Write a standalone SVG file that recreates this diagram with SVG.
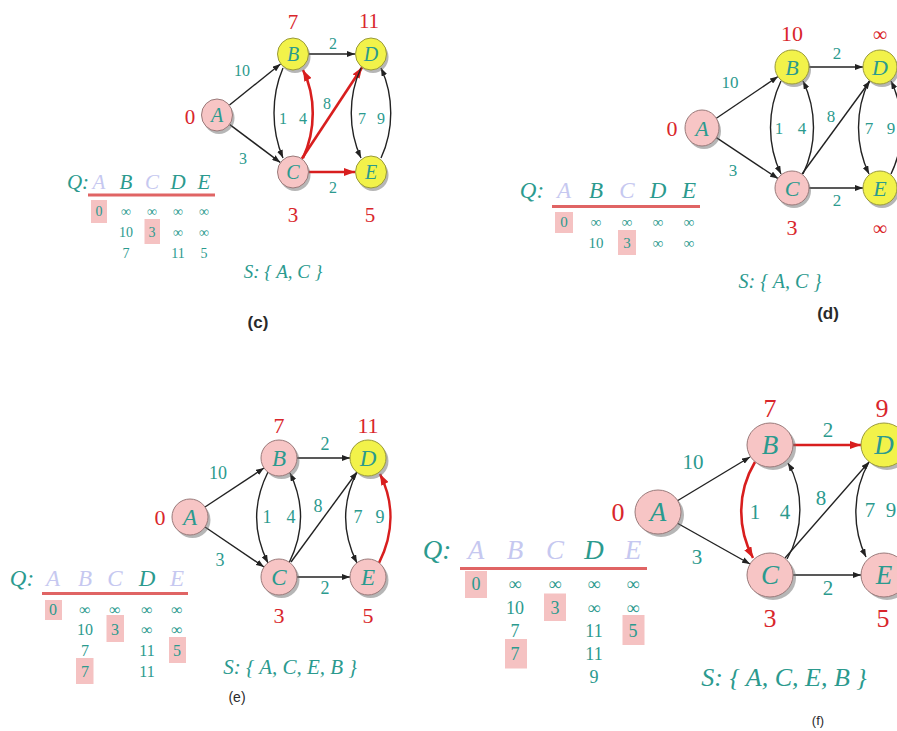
<svg xmlns="http://www.w3.org/2000/svg" width="897" height="731" viewBox="0 0 897 731">
<defs>
<marker id="ab" markerUnits="userSpaceOnUse" markerWidth="8" markerHeight="6" refX="8" refY="3" orient="auto"><path d="M0,0 L8,3 L0,6 z" fill="#222"/></marker>
<marker id="ar" markerUnits="userSpaceOnUse" markerWidth="11" markerHeight="8" refX="11" refY="4" orient="auto"><path d="M0,0 L11,4 L0,8 z" fill="#d81e1e"/></marker>
</defs>
<style>
text{font-family:"Liberation Serif","Times New Roman",serif;text-anchor:middle;dominant-baseline:central}
.t{fill:#2b9a8e}
.r{fill:#d9262b}
.f{fill:#c6c8f0}
.i{font-style:italic}
.e{fill:none;stroke:#222;stroke-width:1.4;marker-end:url(#ab)}
.er{fill:none;stroke:#d81e1e;stroke-width:2.6;marker-end:url(#ar)}
.pk{fill:#f7c5c5;stroke:#9a7a7a;stroke-width:1}
.yl{fill:#f2f24a;stroke:#9a9a3a;stroke-width:1}
.sh{fill:#6e6e6e;opacity:.5}
.hl{fill:#f5c2c2}
.ul{stroke:#e06464;stroke-width:3}
.cap{font-family:"Liberation Sans",Arial,sans-serif;fill:#2a2a2a}
</style>
<rect width="897" height="731" fill="#fff"/>

<!-- ===== Panel (c) ===== -->
<g id="panel-c">
<g id="c-table" font-size="14">
<rect class="hl" x="91" y="200" width="16" height="23"/>
<rect class="hl" x="144.5" y="219" width="15.5" height="25"/>
<line class="ul" x1="88" y1="195" x2="215" y2="195"/>
<g font-size="21" class="i"><text class="t" x="78" y="182">Q:</text><text class="f" x="99" y="182">A</text><text class="t" x="126" y="182">B</text><text class="f" x="152" y="182">C</text><text class="t" x="178" y="182">D</text><text class="t" x="204" y="182">E</text></g>
<text class="t" x="99" y="211">0</text><text class="t" x="126" y="211">∞</text><text class="t" x="152" y="211">∞</text><text class="t" x="178" y="211">∞</text><text class="t" x="204" y="211">∞</text>
<text class="t" x="126" y="232">10</text><text class="t" x="152" y="232">3</text><text class="t" x="178" y="232">∞</text><text class="t" x="204" y="232">∞</text>
<text class="t" x="126" y="253">7</text><text class="t" x="178" y="253">11</text><text class="t" x="204" y="253">5</text>
</g>
<g id="c-edges">
<path class="e" d="M229.5,105 L280.5,64"/>
<path class="e" d="M229.8,124.6 L280.2,162.4"/>
<path class="e" d="M309,54 L355,54"/>
<path class="er" d="M309,172 L355,172"/>
<path class="er" d="M301.8,158.7 L362.2,67.3"/>
<path class="e" d="M283,68 C271,96 271,130 283,158"/>
<path class="er" d="M303,158 C316,130 316,96 303,70"/>
<path class="e" d="M361,68 C348,96 348,130 361,158"/>
<path class="e" d="M381,158 C394,130 394,96 381,68"/>
</g>
<g id="c-weights" class="t" font-size="16">
<text x="242" y="70">10</text><text x="333" y="43">2</text><text x="283" y="118">1</text><text x="303" y="118">4</text><text x="327" y="103">8</text><text x="362" y="118">7</text><text x="381" y="118">9</text><text x="243" y="158">3</text><text x="333" y="187">2</text>
</g>
<g id="c-A"><ellipse class="sh" cx="219" cy="118" rx="15.5" ry="16"/><ellipse class="pk" cx="217" cy="115" rx="15.5" ry="16"/><text class="t i" x="217" y="115" font-size="20">A</text><text class="r" x="190" y="117" font-size="21">0</text></g>
<g id="c-B"><ellipse class="sh" cx="295" cy="57" rx="15.5" ry="16"/><ellipse class="yl" cx="293" cy="54" rx="15.5" ry="16"/><text class="t i" x="293" y="54" font-size="20">B</text><text class="r" x="293" y="22" font-size="21">7</text></g>
<g id="c-C"><ellipse class="sh" cx="295" cy="175" rx="15.5" ry="16"/><ellipse class="pk" cx="293" cy="172" rx="15.5" ry="16"/><text class="t i" x="293" y="172" font-size="20">C</text><text class="r" x="293" y="215" font-size="21">3</text></g>
<g id="c-D"><ellipse class="sh" cx="373" cy="57" rx="15.5" ry="16"/><ellipse class="yl" cx="371" cy="54" rx="15.5" ry="16"/><text class="t i" x="371" y="54" font-size="20">D</text><text class="r" x="369" y="21" font-size="21">11</text></g>
<g id="c-E"><ellipse class="sh" cx="373" cy="175" rx="15.5" ry="16"/><ellipse class="yl" cx="371" cy="172" rx="15.5" ry="16"/><text class="t i" x="371" y="172" font-size="20">E</text><text class="r" x="370" y="215" font-size="21">5</text></g>
<text class="t i" x="283" y="271" font-size="19">S: { A, C }</text>
<text class="cap" x="258" y="322" font-size="17" font-weight="bold">(c)</text>
</g>

<!-- ===== Panel (d) ===== -->
<g id="panel-d">
<g id="d-table" font-size="15">
<rect class="hl" x="555" y="212" width="18" height="21"/>
<rect class="hl" x="618" y="230" width="18" height="25"/>
<line class="ul" x1="552" y1="206.5" x2="700" y2="206.5"/>
<g font-size="23" class="i"><text class="t" x="532" y="190">Q:</text><text class="f" x="564" y="190">A</text><text class="t" x="596" y="190">B</text><text class="f" x="627" y="190">C</text><text class="t" x="658" y="190">D</text><text class="t" x="689" y="190">E</text></g>
<text class="t" x="564" y="221.5">0</text><text class="t" x="596" y="221.5">∞</text><text class="t" x="627" y="221.5">∞</text><text class="t" x="658" y="221.5">∞</text><text class="t" x="689" y="221.5">∞</text>
<text class="t" x="596" y="243">10</text><text class="t" x="627" y="243">3</text><text class="t" x="658" y="243">∞</text><text class="t" x="689" y="243">∞</text>
</g>
<g id="d-edges">
<path class="e" d="M716,118.5 L778,76.5"/>
<path class="e" d="M716,137.4 L778,178.6"/>
<path class="e" d="M809,67 L863,67"/>
<path class="e" d="M809,188 L863,188"/>
<path class="e" d="M802,174 L870,81"/>
<path class="e" d="M781,81 C767,110 767,145 781,174"/>
<path class="e" d="M803,174 C817,145 817,110 803,81"/>
<path class="e" d="M869,81 C855,110 855,145 869,174"/>
<path class="e" d="M891,174 C905,145 905,110 891,81"/>
</g>
<g id="d-weights" class="t" font-size="17">
<text x="730" y="82">10</text><text x="837" y="53">2</text><text x="779" y="128">1</text><text x="802" y="128">4</text><text x="831" y="116">8</text><text x="869" y="128">7</text><text x="891" y="128">9</text><text x="733" y="170">3</text><text x="837" y="200">2</text>
</g>
<g id="d-A"><ellipse class="sh" cx="704" cy="131" rx="17" ry="18"/><ellipse class="pk" cx="702" cy="128" rx="17" ry="18"/><text class="t i" x="702" y="128" font-size="22">A</text><text class="r" x="672" y="128" font-size="22">0</text></g>
<g id="d-B"><ellipse class="sh" cx="794" cy="70" rx="17" ry="17"/><ellipse class="yl" cx="792" cy="67" rx="17" ry="17"/><text class="t i" x="792" y="67" font-size="22">B</text><text class="r" x="792" y="33" font-size="22">10</text></g>
<g id="d-C"><ellipse class="sh" cx="794" cy="191" rx="17" ry="17"/><ellipse class="pk" cx="792" cy="188" rx="17" ry="17"/><text class="t i" x="792" y="188" font-size="22">C</text><text class="r" x="792" y="227" font-size="22">3</text></g>
<g id="d-D"><ellipse class="sh" cx="882" cy="70" rx="17" ry="17"/><ellipse class="yl" cx="880" cy="67" rx="17" ry="17"/><text class="t i" x="880" y="67" font-size="22">D</text><text class="r" x="880" y="34" font-size="20">∞</text></g>
<g id="d-E"><ellipse class="sh" cx="882" cy="191" rx="17" ry="17"/><ellipse class="yl" cx="880" cy="188" rx="17" ry="17"/><text class="t i" x="880" y="188" font-size="22">E</text><text class="r" x="880" y="228" font-size="20">∞</text></g>
<text class="t i" x="780" y="281" font-size="20">S: { A, C }</text>
<text class="cap" x="828" y="313" font-size="17" font-weight="bold">(d)</text>
</g>

<!-- ===== Panel (e) ===== -->
<g id="panel-e">
<g id="e-table" font-size="16">
<rect class="hl" x="45" y="600" width="17" height="20"/>
<rect class="hl" x="106.5" y="615" width="17.5" height="27"/>
<rect class="hl" x="169" y="637" width="17" height="26"/>
<rect class="hl" x="76" y="658" width="17.5" height="26"/>
<line class="ul" x1="42" y1="593.5" x2="188" y2="593.5"/>
<g font-size="23" class="i"><text class="t" x="22" y="578">Q:</text><text class="f" x="53" y="578">A</text><text class="f" x="85" y="578">B</text><text class="f" x="115" y="578">C</text><text class="t" x="147" y="578">D</text><text class="f" x="177" y="578">E</text></g>
<text class="t" x="53" y="609">0</text><text class="t" x="85" y="609">∞</text><text class="t" x="115" y="609">∞</text><text class="t" x="147" y="609">∞</text><text class="t" x="177" y="609">∞</text>
<text class="t" x="85" y="629">10</text><text class="t" x="115" y="629">3</text><text class="t" x="147" y="629">∞</text><text class="t" x="177" y="629">∞</text>
<text class="t" x="85" y="650">7</text><text class="t" x="147" y="650">11</text><text class="t" x="177" y="650">5</text>
<text class="t" x="85" y="671.5">7</text><text class="t" x="147" y="671.5">11</text>
</g>
<g id="e-edges">
<path class="e" d="M205,507 L264,468"/>
<path class="e" d="M205,527 L264,567"/>
<path class="e" d="M297,458 L350,458"/>
<path class="e" d="M297,577 L350,577"/>
<path class="e" d="M291,562 L357,472"/>
<path class="e" d="M268,472 C253,502 253,533 268,563"/>
<path class="e" d="M289,563 C304,533 304,502 290,473"/>
<path class="e" d="M357,472 C342,502 342,533 357,563"/>
<path class="er" d="M379,563 C394,533 394,502 380,474"/>
</g>
<g id="e-weights" class="t" font-size="18">
<text x="218" y="473">10</text><text x="325" y="444">2</text><text x="267" y="517">1</text><text x="291" y="517">4</text><text x="318" y="506">8</text><text x="358" y="517">7</text><text x="380" y="517">9</text><text x="220" y="560">3</text><text x="325" y="588">2</text>
</g>
<g id="e-A"><ellipse class="sh" cx="192.5" cy="520" rx="18" ry="18"/><ellipse class="pk" cx="190" cy="517" rx="18" ry="18"/><text class="t i" x="190" y="517" font-size="23">A</text><text class="r" x="160" y="517" font-size="22">0</text></g>
<g id="e-B"><ellipse class="sh" cx="281.5" cy="461" rx="18" ry="18"/><ellipse class="pk" cx="279" cy="458" rx="18" ry="18"/><text class="t i" x="279" y="458" font-size="23">B</text><text class="r" x="279" y="425" font-size="22">7</text></g>
<g id="e-C"><ellipse class="sh" cx="281.5" cy="580" rx="18" ry="18"/><ellipse class="pk" cx="279" cy="577" rx="18" ry="18"/><text class="t i" x="279" y="577" font-size="23">C</text><text class="r" x="279" y="615" font-size="22">3</text></g>
<g id="e-D"><ellipse class="sh" cx="370.5" cy="461" rx="18" ry="18"/><ellipse class="yl" cx="368" cy="458" rx="18" ry="18"/><text class="t i" x="368" y="458" font-size="23">D</text><text class="r" x="368" y="425" font-size="22">11</text></g>
<g id="e-E"><ellipse class="sh" cx="370.5" cy="580" rx="18" ry="18"/><ellipse class="pk" cx="368" cy="577" rx="18" ry="18"/><text class="t i" x="368" y="577" font-size="23">E</text><text class="r" x="368" y="615" font-size="22">5</text></g>
<text class="t i" x="290" y="667" font-size="21">S: { A, C, E, B }</text>
<text class="cap" x="237" y="697" font-size="14">(e)</text>
</g>

<!-- ===== Panel (f) ===== -->
<g id="panel-f">
<g id="f-table" font-size="18">
<rect class="hl" x="465" y="571" width="22" height="27"/>
<rect class="hl" x="544" y="593.5" width="22" height="27.5"/>
<rect class="hl" x="622.5" y="615" width="22" height="30"/>
<rect class="hl" x="505" y="639" width="22" height="29.5"/>
<line class="ul" x1="460" y1="568.5" x2="647" y2="568.5"/>
<g font-size="27" class="i"><text class="t" x="437" y="550">Q:</text><text class="f" x="476" y="550">A</text><text class="f" x="515" y="550">B</text><text class="f" x="555" y="550">C</text><text class="t" x="594" y="550">D</text><text class="f" x="633" y="550">E</text></g>
<text class="t" x="476" y="584">0</text><text class="t" x="515" y="584">∞</text><text class="t" x="555" y="584">∞</text><text class="t" x="594" y="584">∞</text><text class="t" x="633" y="584">∞</text>
<text class="t" x="515" y="607.5">10</text><text class="t" x="555" y="607.5">3</text><text class="t" x="594" y="607.5">∞</text><text class="t" x="633" y="607.5">∞</text>
<text class="t" x="515" y="630.5">7</text><text class="t" x="594" y="630.5">11</text><text class="t" x="633" y="630.5">5</text>
<text class="t" x="515" y="654">7</text><text class="t" x="594" y="654">11</text>
<text class="t" x="594" y="677">9</text>
</g>
<g id="f-edges">
<path class="e" d="M677,501 L750,457"/>
<path class="e" d="M677,523 L750,564"/>
<path class="er" d="M793,445 L861,445"/>
<path class="e" d="M793,575 L861,575"/>
<path class="e" d="M785,558 L869,462"/>
<path class="er" d="M755,462 C737,492 737,528 753,558"/>
<path class="e" d="M787,559 C804,530 804,490 788,463"/>
<path class="e" d="M869,462 C852,492 852,528 866,557"/>
<path class="e" d="M899,558 C916,528 916,492 899,462"/>
</g>
<g id="f-weights" class="t" font-size="21">
<text x="693" y="462">10</text><text x="828" y="430">2</text><text x="755" y="512">1</text><text x="785" y="512">4</text><text x="821" y="498">8</text><text x="870" y="510">7</text><text x="891" y="510">9</text><text x="697" y="557">3</text><text x="828" y="588">2</text>
</g>
<g id="f-A"><ellipse class="sh" cx="661" cy="515" rx="23" ry="22"/><ellipse class="pk" cx="658" cy="512" rx="23" ry="22"/><text class="t i" x="658" y="512" font-size="27">A</text><text class="r" x="618" y="512" font-size="26">0</text></g>
<g id="f-B"><ellipse class="sh" cx="773" cy="448" rx="23" ry="22"/><ellipse class="pk" cx="770" cy="445" rx="23" ry="22"/><text class="t i" x="770" y="445" font-size="27">B</text><text class="r" x="770" y="408" font-size="26">7</text></g>
<g id="f-C"><ellipse class="sh" cx="773" cy="578" rx="23" ry="22"/><ellipse class="pk" cx="770" cy="575" rx="23" ry="22"/><text class="t i" x="770" y="575" font-size="27">C</text><text class="r" x="770" y="618" font-size="26">3</text></g>
<g id="f-D"><ellipse class="sh" cx="887" cy="448" rx="23" ry="22"/><ellipse class="yl" cx="884" cy="445" rx="23" ry="22"/><text class="t i" x="884" y="445" font-size="27">D</text><text class="r" x="882" y="408" font-size="26">9</text></g>
<g id="f-E"><ellipse class="sh" cx="887" cy="578" rx="23" ry="22"/><ellipse class="pk" cx="884" cy="575" rx="23" ry="22"/><text class="t i" x="884" y="575" font-size="27">E</text><text class="r" x="883" y="618" font-size="26">5</text></g>
<text class="t i" x="784" y="677" font-size="26">S: { A, C, E, B }</text>
<text class="cap" x="818" y="720" font-size="13">(f)</text>
</g>
</svg>
